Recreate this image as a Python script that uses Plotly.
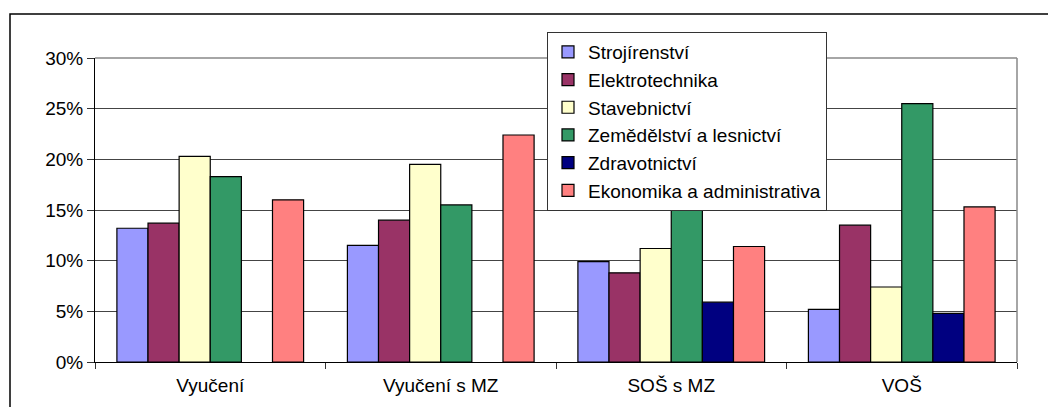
import plotly.graph_objects as go

categories = ["Vyučení", "Vyučení s MZ", "SOŠ s MZ", "VOŠ"]

strojirenstvi = [0.132, 0.115, 0.099, 0.052]
elektrotechnika = [0.137, 0.140, 0.088, 0.135]
stavebnictvi = [0.203, 0.195, 0.112, 0.074]
zemedelstvi = [0.183, 0.155, 0.180, 0.255]
zdravotnictvi = [None, None, 0.059, 0.048]
ekonomika = [0.160, 0.224, 0.114, 0.153]

series = [
    ("Strojírenství", strojirenstvi, "#9999FF"),
    ("Elektrotechnika", elektrotechnika, "#993366"),
    ("Stavebnictví", stavebnictvi, "#FFFFCC"),
    ("Zemědělství a lesnictví", zemedelstvi, "#339966"),
    ("Zdravotnictví", zdravotnictvi, "#000080"),
    ("Ekonomika a administrativa", ekonomika, "#FF8080"),
]

# page body has an 8px margin, so the figure is drawn 8px in from the corner
OFF = 8
W, H = 1056 - OFF, 407 - OFF
# plot area in screen pixels: x 95..1017, y 58..362
L, R, T, B = 95 - OFF, 1056 - 1017, 58 - OFF, 407 - 362
pw, ph = W - L - R, H - T - B


def px_x(p):
    return (p - OFF - L) / pw


def px_y(p):
    return (H - B - (p - OFF)) / ph


fig = go.Figure()
for name, vals, col in series:
    fig.add_trace(go.Bar(
        name=name, x=categories, y=vals,
        marker=dict(color=col, line=dict(color="black", width=1.2)),
    ))

font = "Liberation Sans, Arial, sans-serif"

fig.update_layout(
    width=W, height=H,
    margin=dict(l=L, r=R, t=T, b=B),
    paper_bgcolor="white", plot_bgcolor="white",
    barmode="group", bargap=0.19, bargroupgap=0,
    font=dict(family=font, size=19, color="black"),
    showlegend=True,
    legend=dict(
        x=px_x(547), y=px_y(32), xanchor="left", yanchor="top",
        bgcolor="white", bordercolor="#333333", borderwidth=1,
        font=dict(size=19),
    ),
    xaxis=dict(
        showline=True, linecolor="black", linewidth=1,
        ticks="outside", tickson="boundaries", ticklen=6, tickcolor="#333",
        tickfont=dict(size=19), ticklabelstandoff=6,
    ),
    yaxis=dict(
        range=[0, 0.30], dtick=0.05, tickformat=".0%",
        showline=True, linecolor="black", linewidth=1,
        ticks="outside", ticklen=7, tickcolor="#333",
        showgrid=True, gridcolor="#444444", gridwidth=1,
        zeroline=False, tickfont=dict(size=19),
    ),
    shapes=[
        dict(type="rect", xref="paper", yref="paper",
             x0=px_x(10), x1=px_x(1062), y0=px_y(412), y1=px_y(14),
             line=dict(color="black", width=1.5), layer="below"),
        dict(type="line", xref="paper", yref="paper",
             x0=0, x1=1, y0=1, y1=1, line=dict(color="#888888", width=1.5)),
        dict(type="line", xref="paper", yref="paper",
             x0=1, x1=1, y0=0, y1=1, line=dict(color="#888888", width=1.5)),
    ],
)

fig.write_html("out.html")
